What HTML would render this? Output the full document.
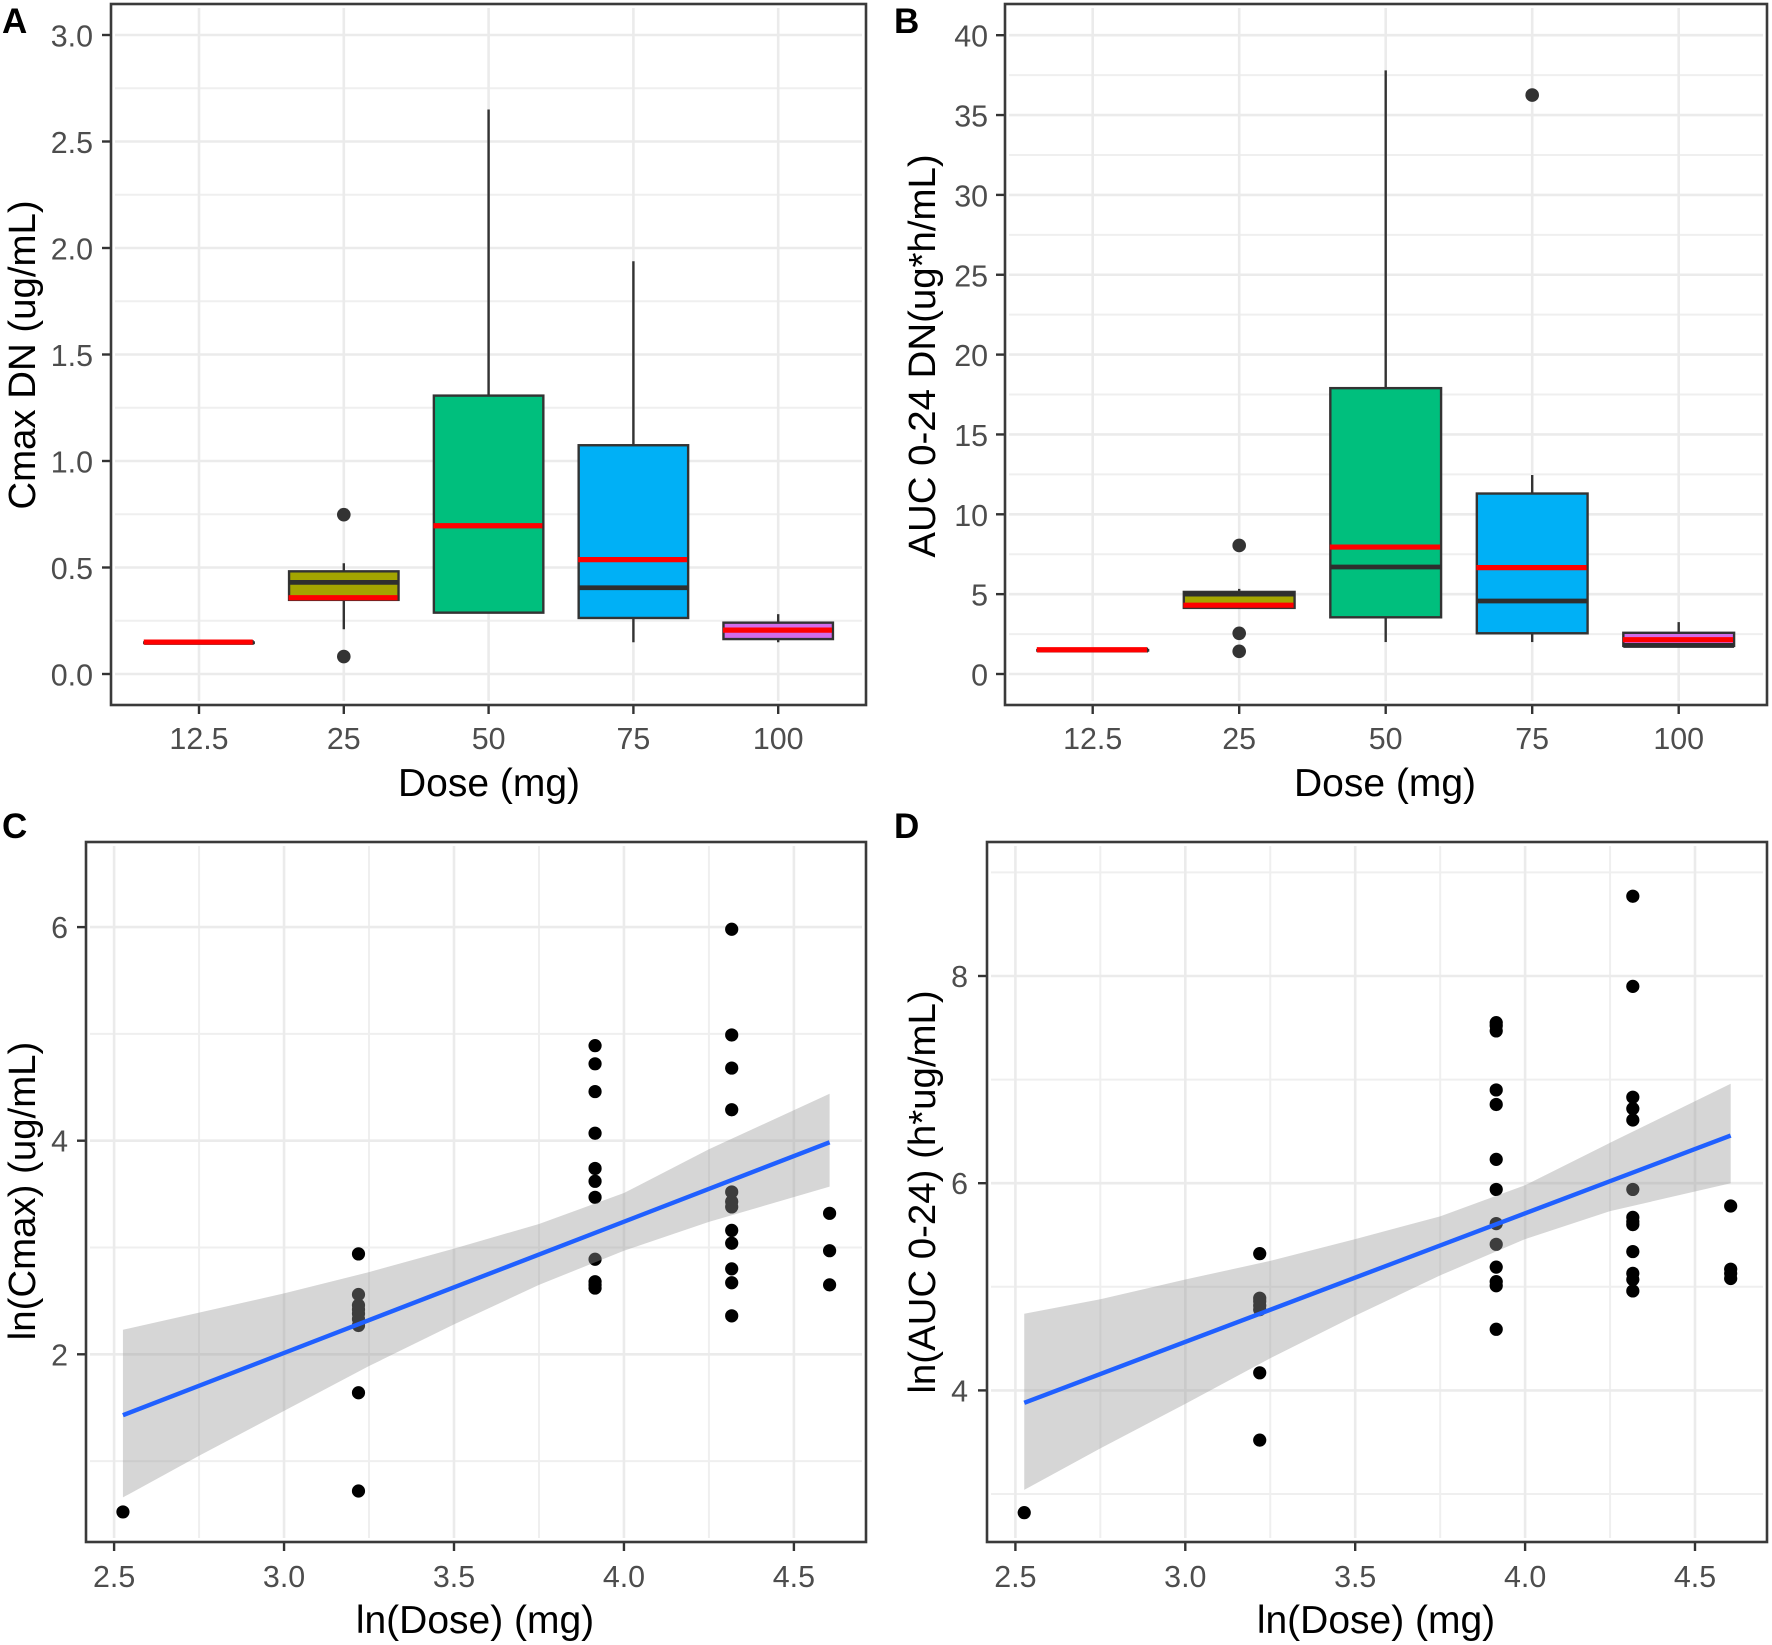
<!DOCTYPE html>
<html lang="en">
<head>
<meta charset="utf-8">
<title>Dose proportionality panels</title>
<style>
html,body{margin:0;padding:0;background:#fff;}
svg{display:block;}
text{font-family:"Liberation Sans",Arial,sans-serif;}
.tick{font-size:30.4px;fill:#4d4d4d;}
.title{font-size:38.4px;fill:#000;}
.xtitle{font-size:39px;fill:#000;}
.letter{font-size:35px;font-weight:bold;fill:#000;}
</style>
</head>
<body>
<svg id="fig" xmlns="http://www.w3.org/2000/svg" width="1772" height="1645" viewBox="0 0 1772 1645">
<rect x="0" y="0" width="1772" height="1645" fill="#fff"/>
<g id="panel-a"></g>
<g id="panel-b"></g>
<g id="panel-c"></g>
<g id="panel-d"></g>
<text class="letter" x="2" y="33">A</text>
<text class="letter" x="894" y="33">B</text>
<text class="letter" x="2" y="838">C</text>
<text class="letter" x="894" y="838">D</text>
<text class="xtitle" x="489" y="796" text-anchor="middle">Dose (mg)</text>
<text class="xtitle" x="1385" y="796" text-anchor="middle">Dose (mg)</text>
<text class="xtitle" x="475" y="1633" text-anchor="middle">ln(Dose) (mg)</text>
<text class="xtitle" x="1376" y="1633" text-anchor="middle">ln(Dose) (mg)</text>
<text class="title" transform="translate(35,355) rotate(-90)" text-anchor="middle">Cmax DN (ug/mL)</text>
<text class="title" transform="translate(935,356) rotate(-90)" text-anchor="middle">AUC 0-24 DN(ug*h/mL)</text>
<text class="title" transform="translate(35,1191) rotate(-90)" text-anchor="middle">ln(Cmax) (ug/mL)</text>
<text class="title" transform="translate(935,1192) rotate(-90)" text-anchor="middle">ln(AUC 0-24) (h*ug/mL)</text>
</svg>
<script>
// ---------- Box plot data ----------
const categories = ['12.5', '25', '50', '75', '100'];
const boxFills = ['#F8766D', '#A3A500', '#00BF7D', '#00B0F6', '#D26CEA'];

const cmaxQ1 = [0.148, 0.348, 0.288, 0.263, 0.164];
const cmaxMedian = [0.148, 0.430, 0.696, 0.405, 0.206];
const cmaxQ3 = [0.148, 0.482, 1.307, 1.074, 0.241];
const cmaxWhiskerLow = [0.148, 0.210, 0.288, 0.149, 0.149];
const cmaxWhiskerHigh = [0.148, 0.520, 2.650, 1.938, 0.281];
const cmaxMean = [0.150, 0.358, 0.696, 0.537, 0.206];
const cmaxOutliers = [[], [0.748, 0.082], [], [], []];
const cmaxTicks = [0, 0.5, 1, 1.5, 2, 2.5, 3];
const cmaxTickLabels = ['0.0', '0.5', '1.0', '1.5', '2.0', '2.5', '3.0'];
const cmaxMinor = [0.25, 0.75, 1.25, 1.75, 2.25, 2.75];

const aucQ1 = [1.50, 4.14, 3.55, 2.55, 1.76];
const aucMedian = [1.50, 5.00, 6.70, 4.57, 1.79];
const aucQ3 = [1.50, 5.14, 17.90, 11.30, 2.58];
const aucWhiskerLow = [1.50, 4.14, 2.00, 2.00, 1.76];
const aucWhiskerHigh = [1.50, 5.33, 37.80, 12.46, 3.25];
const aucMean = [1.52, 4.31, 7.95, 6.66, 2.15];
const aucOutliers = [[], [8.05, 2.55, 1.42], [], [36.25], []];
const aucTicks = [0, 5, 10, 15, 20, 25, 30, 35, 40];
const aucTickLabels = ['0', '5', '10', '15', '20', '25', '30', '35', '40'];
const aucMinor = [2.5, 7.5, 12.5, 17.5, 22.5, 27.5, 32.5, 37.5];

// ---------- Scatter data ----------
const logDoseTicks = [2.5, 3, 3.5, 4, 4.5];
const logDoseTickLabels = ['2.5', '3.0', '3.5', '4.0', '4.5'];
const logDoseMinor = [2.75, 3.25, 3.75, 4.25];

const lnCmaxX = [2.526,
  3.219, 3.219, 3.219, 3.219, 3.219, 3.219, 3.219, 3.219, 3.219,
  3.915, 3.915, 3.915, 3.915, 3.915, 3.915, 3.915, 3.915, 3.915, 3.915, 3.915,
  4.317, 4.317, 4.317, 4.317, 4.317, 4.317, 4.317, 4.317, 4.317, 4.317, 4.317, 4.317,
  4.605, 4.605, 4.605];
const lnCmaxY = [0.524,
  2.94, 2.56, 2.46, 2.42, 2.38, 2.33, 2.27, 1.64, 0.72,
  4.89, 4.72, 4.46, 4.07, 3.74, 3.62, 3.47, 2.89, 2.68, 2.65, 2.62,
  5.98, 4.99, 4.68, 4.29, 3.52, 3.43, 3.38, 3.16, 3.04, 2.80, 2.67, 2.36,
  3.32, 2.97, 2.65];
const lnCmaxFitX = [2.526, 4.605];
const lnCmaxFitY = [1.43, 3.985];
const lnCmaxBandX = [2.526, 2.75, 3.0, 3.25, 3.5, 3.75, 4.0, 4.25, 4.605];
const lnCmaxBandHigh = [2.23, 2.39, 2.57, 2.77, 2.99, 3.22, 3.51, 3.92, 4.44];
const lnCmaxBandLow = [0.66, 1.05, 1.47, 1.89, 2.28, 2.65, 2.97, 3.24, 3.57];
const lnCmaxTicks = [2, 4, 6];
const lnCmaxTickLabels = ['2', '4', '6'];
const lnCmaxMinor = [1, 3, 5];

const lnAucX = [2.526,
  3.219, 3.219, 3.219, 3.219, 3.219, 3.219, 3.219,
  3.915, 3.915, 3.915, 3.915, 3.915, 3.915, 3.915, 3.915, 3.915, 3.915, 3.915, 3.915, 3.915,
  4.317, 4.317, 4.317, 4.317, 4.317, 4.317, 4.317, 4.317, 4.317, 4.317, 4.317, 4.317, 4.317,
  4.605, 4.605, 4.605, 4.605];
const lnAucY = [2.82,
  5.32, 4.89, 4.86, 4.82, 4.78, 4.17, 3.52,
  7.55, 7.52, 7.47, 6.90, 6.76, 6.23, 5.94, 5.61, 5.41, 5.19, 5.05, 5.01, 4.59,
  8.77, 7.90, 6.83, 6.72, 6.61, 5.94, 5.67, 5.63, 5.60, 5.34, 5.13, 5.07, 4.96,
  5.78, 5.17, 5.13, 5.08];
const lnAucFitX = [2.526, 4.605];
const lnAucFitY = [3.88, 6.46];
const lnAucBandX = [2.526, 2.75, 3.0, 3.25, 3.5, 3.75, 4.0, 4.25, 4.605];
const lnAucBandHigh = [4.74, 4.88, 5.07, 5.25, 5.46, 5.68, 5.98, 6.39, 6.96];
const lnAucBandLow = [3.04, 3.44, 3.87, 4.31, 4.72, 5.11, 5.46, 5.73, 6.00];
const lnAucTicks = [4, 6, 8];
const lnAucTickLabels = ['4', '6', '8'];
const lnAucMinor = [3, 5, 7, 9];

// ---------- Drawing ----------
const NS = 'http://www.w3.org/2000/svg';
function make(parent, tag, attrs, txt) {
  const n = document.createElementNS(NS, tag);
  for (const k in attrs) n.setAttribute(k, attrs[k]);
  if (txt !== undefined) n.textContent = txt;
  parent.appendChild(n);
  return n;
}

function drawGridAndAxes(g, f, sx, sy, xMajor, xMinor, xLabels, yMajor, yMinor, yLabels, xBaseline, yRight, yLabelShift) {
  const inset = 4;
  yMinor.forEach(function (v) {
    const l = make(g, 'line', {x1: f.l + inset, x2: f.r - inset, y1: sy(v), y2: sy(v), stroke: '#efefef', 'stroke-width': 2});
    
    
  });
  xMinor.forEach(function (v) {
    const l = make(g, 'line', {x1: sx(v), x2: sx(v), y1: f.t + inset, y2: f.b - inset, stroke: '#efefef', 'stroke-width': 2});
    
    
  });
  yMajor.forEach(function (v) {
    const l = make(g, 'line', {x1: f.l + inset, x2: f.r - inset, y1: sy(v), y2: sy(v), stroke: '#ebebeb', 'stroke-width': 2.6});
    
    
  });
  xMajor.forEach(function (v) {
    const l = make(g, 'line', {x1: sx(v), x2: sx(v), y1: f.t + inset, y2: f.b - inset, stroke: '#ebebeb', 'stroke-width': 2.6});
    
    
  });
  yMajor.forEach(function (v, i) {
    const m = make(g, 'line', {x1: f.l - 9, x2: f.l, y1: sy(v), y2: sy(v), stroke: '#333', 'stroke-width': 2.4});
    
    
    const t = make(g, 'text', {'class': 'tick', x: yRight, y: sy(v) + yLabelShift, 'text-anchor': 'end'}, yLabels[i]);
    
    
  });
  xMajor.forEach(function (v, i) {
    const m = make(g, 'line', {x1: sx(v), x2: sx(v), y1: f.b, y2: f.b + 9, stroke: '#333', 'stroke-width': 2.4});
    
    
    const t = make(g, 'text', {'class': 'tick', x: sx(v), y: xBaseline, 'text-anchor': 'middle'}, xLabels[i]);
    
    
  });
}

function drawFrame(g, f) {
  const b = make(g, 'rect', {x: f.l, y: f.t, width: f.r - f.l, height: f.b - f.t, fill: 'none', stroke: '#3a3a3a', 'stroke-width': 2.6});
  
  
}

function drawBoxPanel(g, f, x0, step, y0, yPerUnit, q1, med, q3, wLow, wHigh, mean, outliers, ticks, tickLabels, minor, yRight) {
  const sx = function (i) { return x0 + step * i; };
  const sy = function (v) { return y0 - v * yPerUnit; };
  const half = step * 0.378;
  const idx = categories.map(function (c, i) { return i; });
  drawGridAndAxes(g, f, sx, sy, idx, [], categories, ticks, minor, tickLabels, 749, yRight, 11.5);
  categories.forEach(function (cat, i) {
    const cx = sx(i);
    if (wHigh[i] > q3[i]) {
      const wu = make(g, 'line', {x1: cx, x2: cx, y1: sy(wHigh[i]), y2: sy(q3[i]), stroke: '#333', 'stroke-width': 2.4});
      
      
    }
    if (wLow[i] < q1[i]) {
      const wl = make(g, 'line', {x1: cx, x2: cx, y1: sy(q1[i]), y2: sy(wLow[i]), stroke: '#333', 'stroke-width': 2.4});
      
      
    }
    const box = make(g, 'rect', {x: cx - half, y: sy(q3[i]), width: half * 2, height: Math.max(sy(q1[i]) - sy(q3[i]), 0.5), fill: boxFills[i], stroke: '#333', 'stroke-width': 2.4});
    
    
    const ml = make(g, 'line', {x1: cx - half, x2: cx + half, y1: sy(med[i]), y2: sy(med[i]), stroke: '#2e2e2e', 'stroke-width': 4.8});
    
    
    const rl = make(g, 'line', {x1: cx - half - 0.5, x2: cx + half - 1, y1: sy(mean[i]), y2: sy(mean[i]), stroke: '#ff0000', 'stroke-width': 5.2});
    
    
    outliers[i].forEach(function (v) {
      const o = make(g, 'circle', {cx: cx, cy: sy(v), r: 6.8, fill: '#333'});
      
      
    });
  });
  drawFrame(g, f);
}

function drawScatterPanel(g, f, xAt25, xPerUnit, yRef, yRefPx, yPerUnit, px, py, fitX, fitY, bandX, bandHigh, bandLow, ticks, tickLabels, minor, yRight) {
  const sx = function (v) { return xAt25 + (v - 2.5) * xPerUnit; };
  const sy = function (v) { return yRefPx - (v - yRef) * yPerUnit; };
  drawGridAndAxes(g, f, sx, sy, logDoseTicks, logDoseMinor, logDoseTickLabels, ticks, minor, tickLabels, 1587, yRight, 11);
  px.forEach(function (v, i) {
    const d = make(g, 'circle', {cx: sx(v), cy: sy(py[i]), r: 6.6, fill: '#000'});
    
    
  });
  const upper = bandX.map(function (v, i) { return sx(v) + ',' + sy(bandHigh[i]); });
  const lower = bandX.map(function (v, i) { return sx(v) + ',' + sy(bandLow[i]); }).reverse();
  const band = make(g, 'polygon', {points: upper.concat(lower).join(' '), fill: '#999999', 'fill-opacity': 0.4});
  
  
  const fit = make(g, 'polyline', {points: fitX.map(function (v, i) { return sx(v) + ',' + sy(fitY[i]); }).join(' '), fill: 'none', stroke: '#2060ff', 'stroke-width': 4.4});
  
  
  drawFrame(g, f);
}

const frameA = {l: 111, r: 866, t: 4, b: 705};
const frameB = {l: 1005, r: 1767, t: 4, b: 705};
const frameC = {l: 86, r: 866, t: 842, b: 1542};
const frameD = {l: 987, r: 1767, t: 842, b: 1542};

drawBoxPanel(document.getElementById('panel-a'), frameA, 199, 144.8, 674, 213,
  cmaxQ1, cmaxMedian, cmaxQ3, cmaxWhiskerLow, cmaxWhiskerHigh, cmaxMean, cmaxOutliers,
  cmaxTicks, cmaxTickLabels, cmaxMinor, 93);
drawBoxPanel(document.getElementById('panel-b'), frameB, 1092.7, 146.5, 674, 15.97,
  aucQ1, aucMedian, aucQ3, aucWhiskerLow, aucWhiskerHigh, aucMean, aucOutliers,
  aucTicks, aucTickLabels, aucMinor, 988);
drawScatterPanel(document.getElementById('panel-c'), frameC, 114.1, 339.9, 4, 1140.7, 106.8,
  lnCmaxX, lnCmaxY, lnCmaxFitX, lnCmaxFitY, lnCmaxBandX, lnCmaxBandHigh, lnCmaxBandLow,
  lnCmaxTicks, lnCmaxTickLabels, lnCmaxMinor, 68);
drawScatterPanel(document.getElementById('panel-d'), frameD, 1015.4, 339.8, 6, 1183.2, 103.6,
  lnAucX, lnAucY, lnAucFitX, lnAucFitY, lnAucBandX, lnAucBandHigh, lnAucBandLow,
  lnAucTicks, lnAucTickLabels, lnAucMinor, 968);
</script>
</body>
</html>
